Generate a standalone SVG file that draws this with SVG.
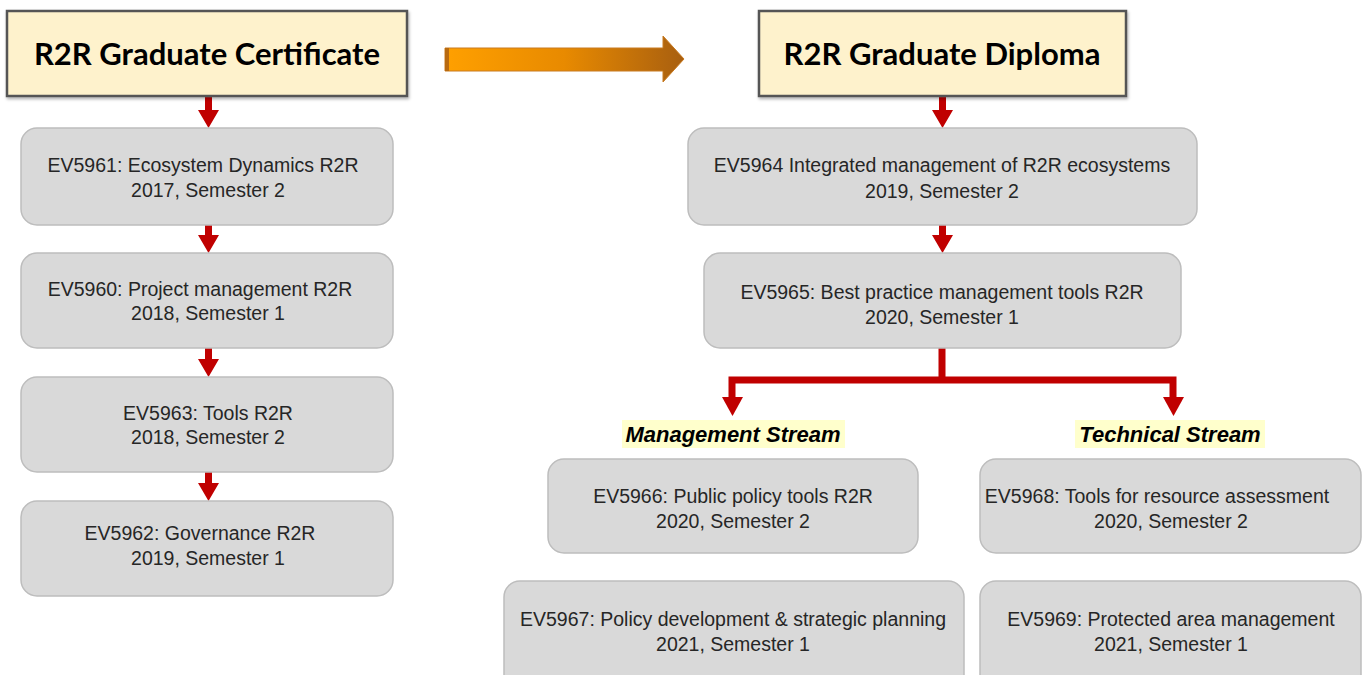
<svg xmlns="http://www.w3.org/2000/svg" width="1370" height="675" viewBox="0 0 1370 675">
<defs>
<linearGradient id="og" x1="0" y1="0" x2="1" y2="0">
<stop offset="0" stop-color="#ffa000"/>
<stop offset="0.5" stop-color="#e88a00"/>
<stop offset="1" stop-color="#a85f10"/>
</linearGradient>
<filter id="sh" x="-5%" y="-5%" width="110%" height="115%">
<feDropShadow dx="1" dy="2" stdDeviation="1.5" flood-color="#000" flood-opacity="0.3"/>
</filter>
</defs>
<style>
.hdr{fill:#fef2cc;stroke:#555;stroke-width:2.5;filter:url(#sh)}
.ht{font-family:Lato,"Liberation Sans",sans-serif;font-weight:bold;font-size:31px;fill:#000;text-anchor:middle}
.box{fill:#d9d9d9;stroke:#bdbdbd;stroke-width:1.5}
.t{font-family:"Liberation Sans",Arial,sans-serif;font-size:19.5px;fill:#262626;text-anchor:middle}
.red{fill:#c00000}
.rl{stroke:#c00000;stroke-width:7;fill:none}
.lab{fill:#ffffcc}
.lt{font-family:"Liberation Sans",Arial,sans-serif;font-weight:bold;font-style:italic;font-size:22px;fill:#000;text-anchor:middle}
</style>
<rect width="1370" height="675" fill="#fff"/>

<g id="connectors">
<path d="M445,48 H663 V36 L684,59 L663,82 V71 H445 Z" fill="url(#og)" stroke="#c87a20" stroke-width="1"/>
<rect x="445" y="48" width="4" height="23" fill="#b86a10"/>
<path class="red" d="M205,96 h7 v14 h7 l-10.5,18 l-10.5,-18 h7 z"/>
<path class="red" d="M205,225 h7 v10 h7 l-10.5,18 l-10.5,-18 h7 z"/>
<path class="red" d="M205,348 h7 v11 h7 l-10.5,18 l-10.5,-18 h7 z"/>
<path class="red" d="M205,472 h7 v11 h7 l-10.5,18 l-10.5,-18 h7 z"/>
<path class="red" d="M939,96 h7 v14 h7 l-10.5,18 l-10.5,-18 h7 z"/>
<path class="red" d="M939,225 h7 v10 h7 l-10.5,18 l-10.5,-18 h7 z"/>
<path class="rl" d="M942,348 V380 M732,380 H1173 M732,376.5 V400 M1173,376.5 V400"/>
<path class="red" d="M722,397 h21 l-10.5,19 z"/>
<path class="red" d="M1163,397 h21 l-10.5,19 z"/>
</g>

<g id="hdr-cert">
<rect class="hdr" x="7" y="11" width="400" height="85"/>
<text class="ht" x="207" y="65">R2R Graduate Certificate</text>
</g>
<g id="hdr-dipl">
<rect class="hdr" x="759" y="11" width="367" height="85"/>
<text class="ht" x="942" y="65">R2R Graduate Diploma</text>
</g>

<g id="ev5961">
<rect class="box" x="21" y="128" width="372" height="97" rx="16"/>
<text class="t" x="203" y="172">EV5961: Ecosystem Dynamics R2R</text>
<text class="t" x="208" y="197">2017, Semester 2</text>
</g>
<g id="ev5960">
<rect class="box" x="21" y="253" width="372" height="95" rx="16"/>
<text class="t" x="200" y="296">EV5960: Project management  R2R</text>
<text class="t" x="208" y="320">2018, Semester 1</text>
</g>
<g id="ev5963">
<rect class="box" x="21" y="377" width="372" height="95" rx="16"/>
<text class="t" x="208" y="420">EV5963: Tools R2R</text>
<text class="t" x="208" y="444">2018, Semester 2</text>
</g>
<g id="ev5962">
<rect class="box" x="21" y="501" width="372" height="95" rx="16"/>
<text class="t" x="200" y="540">EV5962: Governance  R2R</text>
<text class="t" x="208" y="565">2019, Semester 1</text>
</g>

<g id="ev5964">
<rect class="box" x="688" y="128" width="509" height="97" rx="16"/>
<text class="t" x="942" y="172">EV5964 Integrated management of R2R ecosystems</text>
<text class="t" x="942" y="198">2019, Semester 2</text>
</g>
<g id="ev5965">
<rect class="box" x="704" y="253" width="477" height="95" rx="16"/>
<text class="t" x="942" y="299">EV5965: Best practice management tools R2R</text>
<text class="t" x="942" y="324">2020, Semester 1</text>
</g>

<g id="mgmt-label">
<rect class="lab" x="622" y="420" width="223" height="28"/>
<text class="lt" x="733" y="442">Management Stream</text>
</g>
<g id="tech-label">
<rect class="lab" x="1075" y="420" width="190" height="28"/>
<text class="lt" x="1170" y="442">Technical Stream</text>
</g>

<g id="ev5966">
<rect class="box" x="548" y="459" width="370" height="94" rx="16"/>
<text class="t" x="733" y="503">EV5966: Public policy tools R2R</text>
<text class="t" x="733" y="528">2020, Semester 2</text>
</g>
<g id="ev5967">
<rect class="box" x="504" y="581" width="460" height="110" rx="16"/>
<text class="t" x="733" y="626">EV5967: Policy development &amp; strategic planning</text>
<text class="t" x="733" y="651">2021, Semester 1</text>
</g>
<g id="ev5968">
<rect class="box" x="980" y="459" width="381" height="94" rx="16"/>
<text class="t" x="1157" y="503">EV5968: Tools for resource assessment</text>
<text class="t" x="1171" y="528">2020, Semester 2</text>
</g>
<g id="ev5969">
<rect class="box" x="980" y="581" width="381" height="110" rx="16"/>
<text class="t" x="1171" y="626">EV5969: Protected area management</text>
<text class="t" x="1171" y="651">2021, Semester 1</text>
</g>
</svg>
